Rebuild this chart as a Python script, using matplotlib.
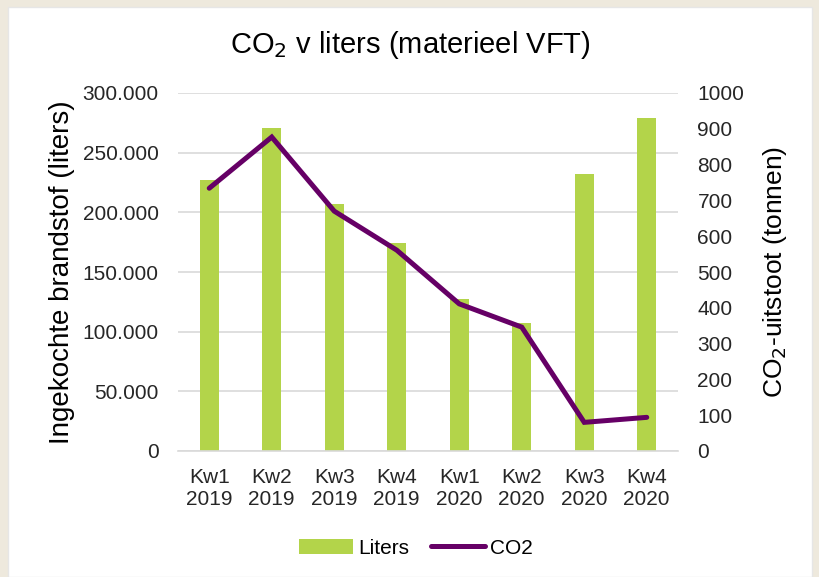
import numpy as np
import matplotlib
matplotlib.use("Agg")
import matplotlib.pyplot as plt
from matplotlib.patches import Rectangle
from matplotlib.ticker import FuncFormatter

plt.rcParams['font.family'] = ['Liberation Sans', 'DejaVu Sans']

# data
quarters = ["Kw1\n2019", "Kw2\n2019", "Kw3\n2019", "Kw4\n2019",
            "Kw1\n2020", "Kw2\n2020", "Kw3\n2020", "Kw4\n2020"]
liters = [227000, 271000, 207000, 174000, 127000, 107000, 232000, 279000]
co2 = [734, 877, 670, 561, 411, 346, 80, 94]

bar_color = "#b3d44a"
line_color = "#660066"
grid_color = "#d9d9d9"

fig = plt.figure(figsize=(8.2, 5.77), dpi=100, facecolor="#eee9dd")
# white chart area on the slide background
fig.patches.append(Rectangle((8/820, 0), 804/820, 1 - 7/577, transform=fig.transFigure,
                             facecolor="white", edgecolor="#e6e6e6", lw=1, zorder=-10))

ax = fig.add_axes([178/820, 1 - 451/577, 500/820, 358/577])
ax.set_facecolor("none")
x = np.arange(len(quarters))
bars = ax.bar(x, liters, width=0.31, color=bar_color, label="Liters", zorder=2)
ax.set_ylim(0, 300000)
ax.set_xlim(-0.5, len(quarters) - 0.5)
ax.set_yticks(np.arange(0, 300001, 50000))
ax.yaxis.set_major_formatter(FuncFormatter(lambda v, p: f"{int(v):,}".replace(",", ".")))
ax.grid(axis="y", color=grid_color, lw=1.2, zorder=0)
ax.set_xticks(x)
ax.set_xticklabels(quarters, fontsize=15, linespacing=1.22)
ax.tick_params(axis="both", length=0, labelsize=15, colors="#262626")
ax.tick_params(axis="y", pad=14)
ax.tick_params(axis="x", pad=12)
for s in ax.spines.values():
    s.set_visible(False)
ax.spines["bottom"].set_visible(True)
ax.spines["bottom"].set_color(grid_color)
ax.spines["bottom"].set_linewidth(1.2)
ax.set_ylabel("Ingekochte brandstof (liters)", fontsize=20, color="black", labelpad=5)

ax2 = ax.twinx()
line, = ax2.plot(x, co2, color=line_color, lw=3.6, solid_capstyle="round",
                 solid_joinstyle="miter", label="CO2", zorder=3)
ax2.set_ylim(0, 1000)
ax2.set_yticks(np.arange(0, 1001, 100))
ax2.tick_params(axis="y", length=0, labelsize=15, colors="#262626", pad=14)
for s in ax2.spines.values():
    s.set_visible(False)
ax2.set_ylabel("CO$_2$-uitstoot (tonnen)", fontsize=19, color="black", labelpad=12)

fig.text(0.5, 1 - 45/577, "CO$_2$ v liters (materieel VFT)", ha="center", va="center",
         fontsize=21, color="black")

fig.legend(handles=[bars, line], labels=["Liters", "CO2"], loc="center",
           bbox_to_anchor=(416/820, 1 - 548/577), ncol=2, frameon=False,
           fontsize=15, handlelength=2.6, handletextpad=0.25, columnspacing=1.0)

fig.savefig("out.png", dpi=100, facecolor=fig.get_facecolor())
